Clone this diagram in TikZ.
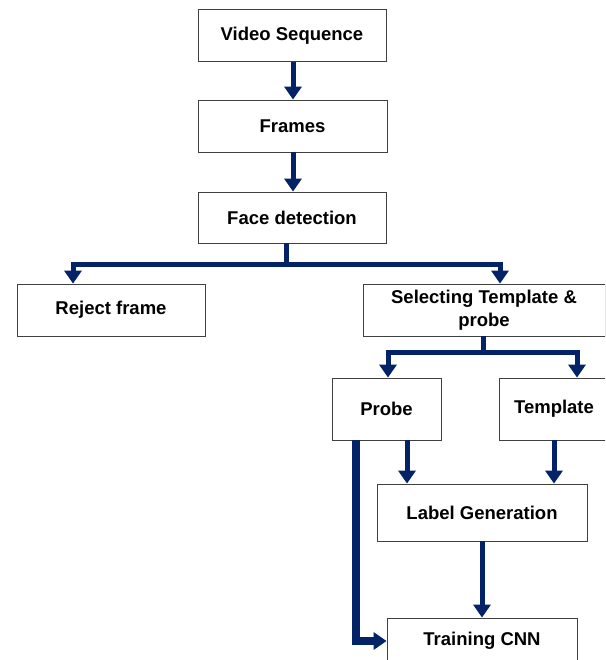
\documentclass[tikz,border=0pt]{standalone}
\usepackage{fontspec}
\setmainfont{Liberation Sans}
\usetikzlibrary{arrows.meta}
\definecolor{navy}{RGB}{4,34,102}
\tikzset{
  box/.style={draw=black!75, line width=0.8pt, fill=white, rectangle,
    inner sep=0pt, align=center, font=\fontsize{18.5}{22.5}\selectfont\bfseries},
  arr/.style={draw=navy, line width=5pt, line join=miter,
    -{Triangle[length=13pt,width=17pt]}},
  thickarr/.style={arr, line width=8pt}
}
\begin{document}
\begin{tikzpicture}[x=1pt,y=-1pt]
\useasboundingbox (0,0) rectangle (605,660);
\clip (0,0) rectangle (605,660);

\node[box, minimum width=188pt, minimum height=52pt] (video) at (292,35.5) {Video Sequence};
\node[box, minimum width=189pt, minimum height=52pt] (frames) at (292.5,126) {Frames};
\node[box, minimum width=188pt, minimum height=51pt] (face) at (292,217.5) {Face detection};
\node[box, minimum width=188pt, minimum height=52pt] (reject) at (111,310) {Reject frame};
\node[box, minimum width=242pt, minimum height=52pt] (select) at (484,310) {Selecting Template \&\\probe};
\node[box, minimum width=109pt, minimum height=62pt] (probe) at (386.5,409) {Probe};
\node[box, minimum width=110pt, minimum height=62pt] (templ) at (554,409) {Template};
\node[box, minimum width=210pt, minimum height=57pt] (label) at (482,512.5) {Label Generation};
\node[box, minimum width=190pt, minimum height=46pt] (train) at (482,641) {Training CNN};

% main chain
\draw[arr] (video.south -| 293,0) -- (frames.north -| 293,0);
\draw[arr] (frames.south -| 293,0) -- (face.north -| 293,0);

% split after face detection
\coordinate (fsplit) at (286,264);
\draw[navy, line width=5pt] (face.south -| fsplit) -- (fsplit);
\draw[arr] (fsplit) -| (reject.north -| 73,0);
\draw[arr] (fsplit) -| (select.north -| 500,0);

% split after template/probe selection
\coordinate (ssplit) at (483,352);
\draw[navy, line width=5pt] (select.south -| ssplit) -- (ssplit);
\draw[arr] (ssplit) -| (probe.north -| 388,0);
\draw[arr] (ssplit) -| (templ.north -| 577,0);

% into label generation
\draw[arr] (probe.south -| 407,0) -- (label.north -| 407,0);
\draw[arr] (templ.south -| 554,0) -- (label.north -| 554,0);

% into training
\draw[arr] (label.south) -- (train.north);
\coordinate (pbend) at (356,641);
\draw[thickarr] (probe.south -| pbend) -- (pbend) -- (train.west |- pbend);
\end{tikzpicture}
\end{document}
